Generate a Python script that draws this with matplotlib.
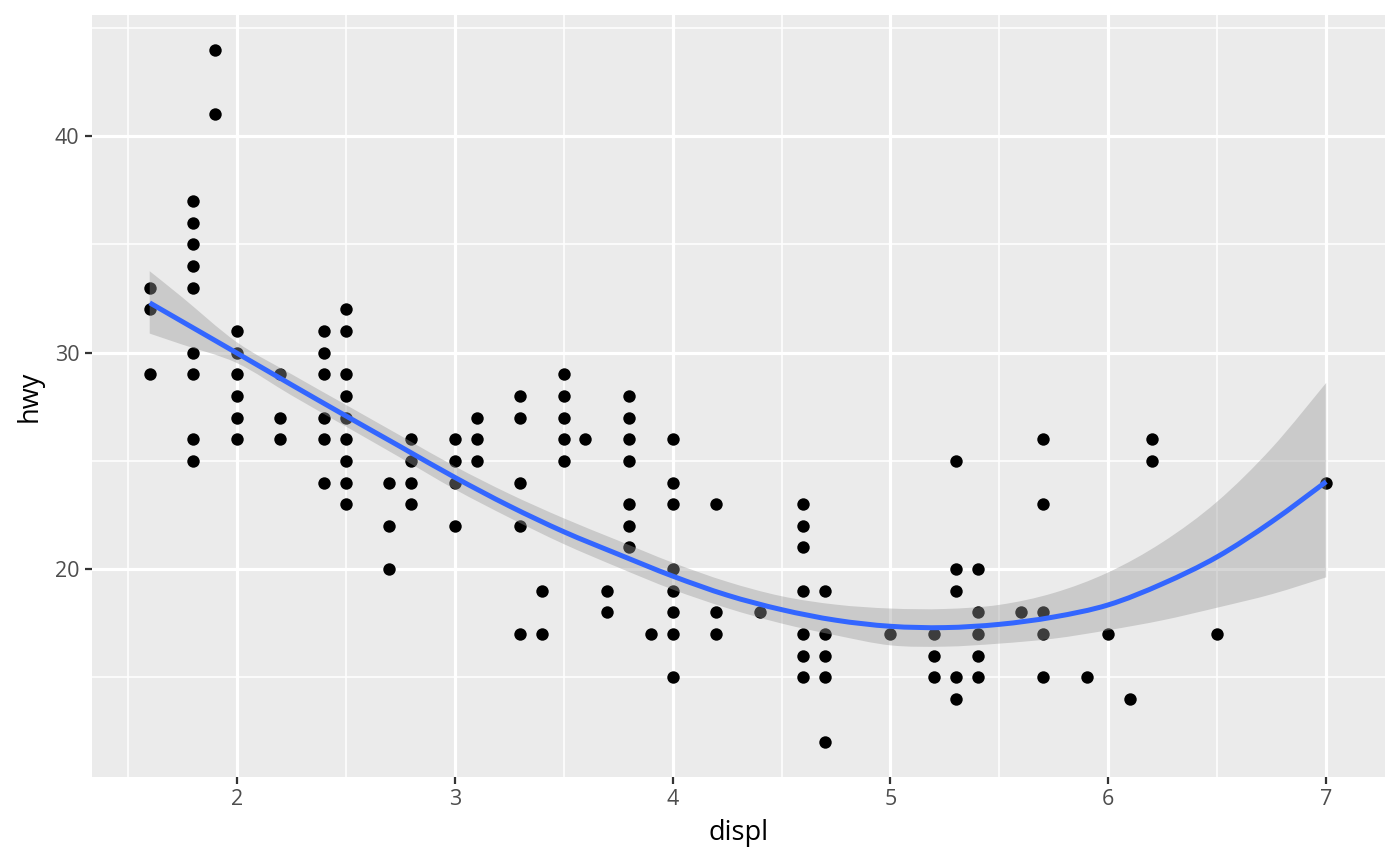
import matplotlib
matplotlib.use("Agg")
import matplotlib.pyplot as plt
from matplotlib.path import Path
from matplotlib.patches import PathPatch
from matplotlib.ticker import MultipleLocator

plt.rcParams['font.family'] = ['Open Sans', 'DejaVu Sans']

# scatter points (displ, hwy)
displ = [1.6, 1.6, 1.6,
         1.8, 1.8, 1.8, 1.8, 1.8, 1.8, 1.8, 1.8, 1.8,
         1.9, 1.9,
         2.0, 2.0, 2.0, 2.0, 2.0, 2.0,
         2.2, 2.2, 2.2,
         2.4, 2.4, 2.4, 2.4, 2.4, 2.4,
         2.5, 2.5, 2.5, 2.5, 2.5, 2.5, 2.5, 2.5, 2.5,
         2.7, 2.7, 2.7,
         2.8, 2.8, 2.8, 2.8,
         3.0, 3.0, 3.0, 3.0,
         3.1, 3.1, 3.1,
         3.3, 3.3, 3.3, 3.3, 3.3,
         3.4, 3.4,
         3.5, 3.5, 3.5, 3.5, 3.5,
         3.6,
         3.7, 3.7,
         3.8, 3.8, 3.8, 3.8, 3.8, 3.8, 3.8,
         3.9,
         4.0, 4.0, 4.0, 4.0, 4.0, 4.0, 4.0, 4.0,
         4.2, 4.2, 4.2,
         4.4,
         4.6, 4.6, 4.6, 4.6, 4.6, 4.6, 4.6,
         4.7, 4.7, 4.7, 4.7, 4.7,
         5.0,
         5.2, 5.2, 5.2,
         5.3, 5.3, 5.3, 5.3, 5.3,
         5.4, 5.4, 5.4, 5.4, 5.4,
         5.6,
         5.7, 5.7, 5.7, 5.7, 5.7,
         5.9, 6.0, 6.1,
         6.2, 6.2,
         6.5, 7.0]
hwy = [33, 32, 29,
       37, 36, 35, 34, 33, 30, 29, 26, 25,
       44, 41,
       31, 30, 29, 28, 27, 26,
       29, 27, 26,
       31, 30, 29, 27, 26, 24,
       32, 31, 29, 28, 27, 26, 25, 24, 23,
       24, 22, 20,
       26, 25, 24, 23,
       26, 25, 24, 22,
       27, 26, 25,
       28, 27, 24, 22, 17,
       19, 17,
       29, 28, 27, 26, 25,
       26,
       19, 18,
       28, 27, 26, 25, 23, 22, 21,
       17,
       26, 24, 23, 20, 19, 18, 17, 15,
       23, 18, 17,
       18,
       23, 22, 21, 19, 17, 16, 15,
       19, 17, 16, 15, 12,
       17,
       17, 16, 15,
       25, 20, 19, 15, 14,
       20, 18, 17, 16, 15,
       18,
       26, 23, 18, 17, 15,
       15, 17, 14,
       26, 25,
       17, 24]

# smoothed curve and its confidence band
fit_x = [1.6, 1.75, 2.0, 2.25, 2.5, 2.75, 3.0, 3.25, 3.5, 3.75, 4.0, 4.25,
         4.5, 4.75, 5.0, 5.25, 5.5, 5.75, 6.0, 6.25, 6.5, 6.75, 7.0]
fit_y = [32.30, 31.43, 29.98, 28.52, 27.08, 25.66, 24.24, 22.92, 21.73, 20.69,
         19.68, 18.80, 18.13, 17.64, 17.36, 17.30, 17.45, 17.79, 18.35, 19.33,
         20.57, 22.19, 24.04]
fit_lo = [30.88, 30.37, 29.52, 28.03, 26.59, 25.15, 23.69, 22.38, 21.16, 20.08,
          19.06, 18.20, 17.49, 16.94, 16.48, 16.42, 16.56, 16.79, 17.18, 17.64,
          18.22, 18.84, 19.62]
fit_hi = [33.76, 32.55, 30.48, 29.01, 27.59, 26.17, 24.75, 23.48, 22.35, 21.32,
          20.30, 19.42, 18.75, 18.36, 18.18, 18.16, 18.35, 18.90, 19.85, 21.25,
          23.12, 25.59, 28.60]


# bezier path through the read points (catmull-rom style), so the line is drawn smooth
def smooth_path(xs, ys, start=True):
    pts = list(zip(xs, ys))
    n = len(pts)
    verts = [pts[0]]
    codes = [Path.MOVETO if start else Path.LINETO]
    for i in range(n - 1):
        p0 = pts[max(i - 1, 0)]
        p1 = pts[i]
        p2 = pts[i + 1]
        p3 = pts[min(i + 2, n - 1)]
        c1 = (p1[0] + (p2[0] - p0[0]) / 6, p1[1] + (p2[1] - p0[1]) / 6)
        c2 = (p2[0] - (p3[0] - p1[0]) / 6, p2[1] - (p3[1] - p1[1]) / 6)
        verts += [c1, c2, p2]
        codes += [Path.CURVE4] * 3
    return verts, codes


fig = plt.figure(figsize=(14, 8.66), dpi=100)
ax = fig.add_axes([0.0657, 0.1028, 0.9236, 0.88])
ax.set_facecolor('#EBEBEB')

ax.scatter(displ, hwy, s=80, color='black', linewidths=0, zorder=2)

# ribbon: upper edge left to right, lower edge back
v1, c1 = smooth_path(fit_x, fit_hi)
v2, c2 = smooth_path(fit_x[::-1], fit_lo[::-1], start=False)
band = PathPatch(Path(v1 + v2 + [v1[0]], c1 + c2 + [Path.CLOSEPOLY]),
                 facecolor='#999999', alpha=0.4, linewidth=0, zorder=3)
ax.add_patch(band)

vl, cl = smooth_path(fit_x, fit_y)
line = PathPatch(Path(vl, cl), facecolor='none', edgecolor='#3366FF',
                 linewidth=3.6, capstyle='butt', zorder=4)
ax.add_patch(line)

ax.set_xlim(1.335, 7.27)
ax.set_ylim(10.4, 45.6)
ax.xaxis.set_major_locator(MultipleLocator(1))
ax.xaxis.set_minor_locator(MultipleLocator(0.5))
ax.yaxis.set_major_locator(MultipleLocator(10))
ax.yaxis.set_minor_locator(MultipleLocator(5))

ax.grid(which='major', color='white', linewidth=2.3)
ax.grid(which='minor', color='white', linewidth=1.15)
ax.set_axisbelow(True)
for s in ax.spines.values():
    s.set_visible(False)

ax.tick_params(which='major', length=5, width=1.6, color='#333333',
               labelsize=15.5, labelcolor='#4D4D4D', pad=4)
ax.tick_params(which='minor', length=0)

ax.set_xlabel('displ', fontsize=19.5, color='black', labelpad=6)
ax.set_ylabel('hwy', fontsize=19.5, color='black', labelpad=8)

fig.savefig('out.png', dpi=100)
